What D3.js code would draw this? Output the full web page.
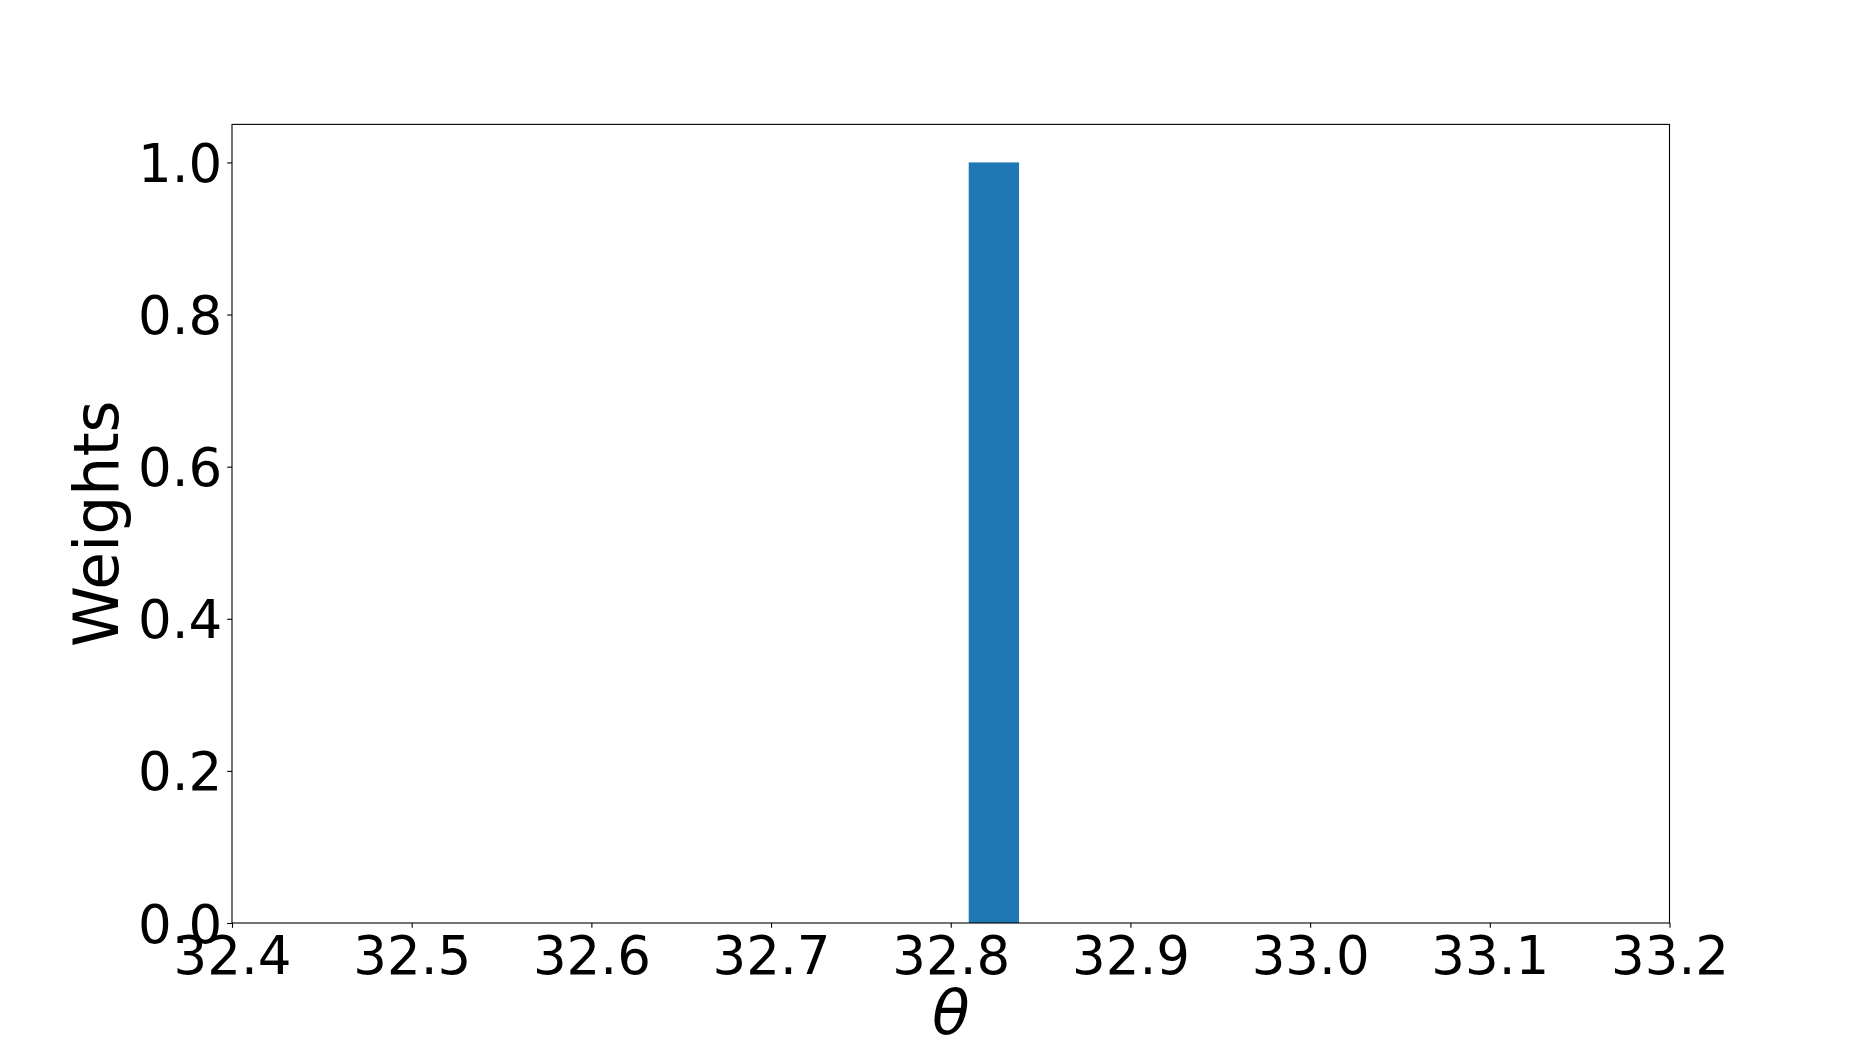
<!DOCTYPE html>
<html>
<head>
<meta charset="utf-8">
<script src="https://cdn.jsdelivr.net/npm/d3@7"></script>
<style>
  body { margin: 0; background: #fff; }
  text { font-family: "DejaVu Sans", sans-serif; }
</style>
</head>
<body>
<script>
// histogram data
var binStart = [32.810];
var binEnd = [32.838];
var weights = [1.0];
var xTicks = [32.4, 32.5, 32.6, 32.7, 32.8, 32.9, 33.0, 33.1, 33.2];
var yTicks = [0.0, 0.2, 0.4, 0.6, 0.8, 1.0];

var W = 1855, H = 1037;
var margin = {top: 124.4, right: 185.5, bottom: 114, left: 232};
var width = W - margin.left - margin.right;
var height = H - margin.top - margin.bottom;
var fs = 53;      // tick labels
var labelFs = 61.6; // axis labels

var svg = d3.select("body").append("svg")
    .attr("width", W)
    .attr("height", H);

var g = svg.append("g")
    .attr("transform", "translate(" + margin.left + "," + margin.top + ")");

var x = d3.scaleLinear().domain([32.4, 33.2]).range([0, width]);
var y = d3.scaleLinear().domain([0, 1.05]).range([height, 0]);

var bins = weights.map(function(w, i) { return {x0: binStart[i], x1: binEnd[i], w: w}; });

g.selectAll("rect.bar").data(bins).enter().append("rect")
    .attr("class", "bar")
    .attr("x", function(d) { return x(d.x0); })
    .attr("width", function(d) { return x(d.x1) - x(d.x0); })
    .attr("y", function(d) { return y(d.w); })
    .attr("height", function(d) { return y(0) - y(d.w); })
    .attr("fill", "#1f77b4");

// axes
var xAxis = d3.axisBottom(x).tickValues(xTicks).tickFormat(d3.format(".1f"))
    .tickSizeInner(4.86).tickSizeOuter(0).tickPadding(4.86);
var yAxis = d3.axisLeft(y).tickValues(yTicks).tickFormat(d3.format(".1f"))
    .tickSizeInner(4.86).tickSizeOuter(0).tickPadding(4.86);

var gx = g.append("g").attr("transform", "translate(0," + height + ")").call(xAxis);
var gy = g.append("g").call(yAxis);

[gx, gy].forEach(function(a) {
  a.select(".domain").remove();
  a.selectAll(".tick line").attr("stroke", "#000").attr("stroke-width", 1.1);
  a.selectAll(".tick text").attr("font-size", fs).attr("fill", "#000")
      .style("font-family", "DejaVu Sans");
});
gx.selectAll(".tick text").attr("dy", "0.78em");
gy.selectAll(".tick text").attr("dy", "0.36em");

// frame
g.append("rect")
    .attr("x", 0).attr("y", 0)
    .attr("width", width).attr("height", height)
    .attr("fill", "none")
    .attr("stroke", "#000")
    .attr("stroke-width", 1.1);

// labels
svg.append("text")
    .attr("x", margin.left + width / 2)
    .attr("y", 1034)
    .attr("text-anchor", "middle")
    .attr("font-size", labelFs)
    .style("font-style", "italic")
    .style("font-family", "DejaVu Sans")
    .text("θ");

svg.append("text")
    .attr("transform", "translate(118," + (margin.top + height / 2) + ") rotate(-90)")
    .attr("text-anchor", "middle")
    .attr("font-size", labelFs)
    .style("font-family", "DejaVu Sans")
    .text("Weights");
</script>
</body>
</html>
